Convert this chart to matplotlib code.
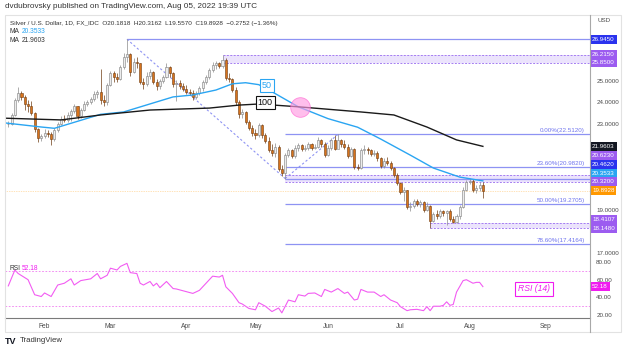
import matplotlib
matplotlib.use("Agg")
import matplotlib.pyplot as plt
import numpy as np
import pandas as pd
from matplotlib.lines import Line2D
from matplotlib.patches import Rectangle
import matplotlib.transforms as mtransforms

plt.rcParams["font.family"] = ["Liberation Sans", "DejaVu Sans"]

# ---- data (daily bars, Jan 17 .. Aug 5 2022) ----
dates = pd.bdate_range("2022-01-17", "2022-08-05")
first_open = 22.98
closes = [23.00, 23.40, 24.10, 24.45, 24.25, 23.95, 23.85, 23.50, 22.75, 22.35, 22.45,
          22.60, 22.55, 22.30, 22.70, 23.00, 23.25, 23.20, 23.40, 23.60, 23.85, 23.35,
          23.65, 23.95, 24.00, 24.15, 24.40, 24.50, 24.10, 24.00, 24.80,
          25.35, 25.20, 25.10, 25.65, 26.10, 26.25, 25.40, 25.90, 25.85, 24.95, 24.85,
          25.25, 25.40, 24.95, 24.75, 25.00, 25.20, 25.65, 25.35, 24.85, 24.90, 24.75, 24.65,
          24.50, 24.45, 24.25, 24.45, 24.67, 24.95, 25.20, 25.50, 25.75, 25.85, 25.70,
          26.00, 25.15, 25.10, 24.60, 24.00, 23.45, 23.55, 23.10, 22.80, 22.60,
          22.50, 22.95, 22.50, 22.20, 21.80, 21.65, 21.95, 20.90, 20.70, 21.55, 21.80,
          21.50, 21.90, 22.00, 21.85, 21.90, 22.05, 21.90, 21.95, 22.25, 22.05, 21.55,
          21.90, 22.25, 21.85, 22.25, 22.05, 21.95, 21.50, 21.85, 21.00, 20.95, 21.80,
          21.85, 21.80, 21.60, 21.65, 21.40, 21.05, 21.30, 21.20, 20.95, 20.65, 20.25,
          19.85, 19.95, 19.15, 19.20, 19.40, 19.30, 19.35, 19.00, 19.20, 18.50, 18.80,
          18.70, 18.95, 18.85, 18.95, 18.60, 18.45, 18.70, 19.15, 19.95, 20.30,
          20.35, 19.95, 20.00, 20.1818, 19.8928]
highs = [23.15, 23.50, 24.20, 24.70, 24.55, 24.35, 24.10, 24.05, 23.55, 22.80, 22.55,
         22.75, 22.70, 22.65, 22.80, 23.10, 23.35, 23.40, 23.55, 23.70, 23.95, 23.85,
         23.75, 24.05, 24.10, 24.25, 24.55, 24.60, 25.55, 24.35, 24.90,
         25.45, 25.45, 25.35, 25.75, 26.30, 26.945, 26.30, 26.05, 26.10, 25.85, 25.15,
         25.40, 25.55, 25.45, 25.10, 25.10, 25.30, 25.85, 25.70, 25.40, 25.05, 25.05, 24.90,
         24.80, 24.65, 24.60, 24.55, 24.75, 25.05, 25.30, 25.60, 25.90, 25.95, 25.90,
         26.215, 26.05, 25.35, 25.15, 24.70, 24.10, 23.70, 23.60, 23.20, 22.95,
         22.75, 23.05, 23.00, 22.60, 22.40, 22.05, 22.10, 22.00, 21.10, 21.65, 21.90,
         21.85, 22.00, 22.10, 22.05, 22.00, 22.15, 22.10, 22.05, 22.40, 22.30, 22.15,
         22.00, 22.35, 22.50, 22.512, 22.30, 22.25, 22.05, 21.95, 21.90, 21.15, 21.90,
         22.00, 21.95, 21.85, 21.80, 21.75, 21.45, 21.40, 21.45, 21.30, 21.00, 20.70,
         20.30, 20.05, 19.95, 19.35, 19.50, 19.50, 19.45, 19.40, 19.35, 19.25, 18.90,
         19.00, 19.05, 19.00, 19.00, 19.05, 18.70, 18.80, 19.25, 20.05, 20.40,
         20.50, 20.45, 20.15, 20.30, 20.3162]
lows = [22.85, 22.95, 23.35, 24.00, 24.10, 23.65, 23.55, 23.40, 22.65, 22.15, 22.20,
        22.35, 22.40, 22.00, 22.20, 22.65, 22.95, 23.10, 23.10, 23.15, 23.50, 23.25,
        23.30, 23.60, 23.85, 23.95, 24.05, 24.20, 23.95, 23.85, 23.90,
        24.75, 24.95, 24.95, 25.05, 25.55, 25.90, 25.25, 25.35, 25.60, 24.85, 24.65,
        24.75, 25.10, 24.85, 24.60, 24.65, 24.90, 25.15, 25.20, 24.70, 24.05, 24.65, 24.55,
        24.40, 24.35, 24.10, 24.15, 24.35, 24.55, 24.85, 25.10, 25.40, 25.55, 25.60,
        25.60, 25.05, 24.95, 24.50, 23.90, 23.30, 23.30, 23.00, 22.70, 22.45,
        22.30, 22.40, 22.35, 22.10, 21.70, 21.50, 21.45, 20.80, 20.60, 20.462, 21.45,
        21.40, 21.40, 21.75, 21.75, 21.75, 21.80, 21.80, 21.85, 21.90, 21.95, 21.45,
        21.50, 21.80, 21.80, 21.95, 21.95, 21.85, 21.40, 21.45, 20.90, 20.85, 20.90,
        21.60, 21.60, 21.50, 21.50, 21.30, 20.95, 20.95, 21.10, 20.85, 20.55, 20.15,
        19.75, 19.40, 19.05, 18.95, 19.10, 19.20, 19.15, 18.90, 18.95, 18.148, 18.45,
        18.60, 18.65, 18.70, 18.30, 18.50, 18.40, 18.41, 18.60, 19.10, 19.90,
        20.20, 19.85, 19.80, 19.90, 19.557]

ma50_at = [-1, 10, 14, 28, 35, 50, 56, 63, 68, 72, 76, 80, 88, 97, 106, 113, 122, 129, 137, 144]
ma50_val = [23.05, 22.86, 22.80, 23.45, 23.56, 24.26, 24.35, 24.58, 24.87, 24.92, 24.83,
            24.50, 23.80, 23.25, 22.85, 22.30, 21.55, 20.95, 20.53, 20.3533]
ma100_at = [-1, 16, 28, 43, 61, 70, 76, 88, 107, 117, 127, 136, 144]
ma100_val = [23.27, 23.19, 23.42, 23.65, 23.74, 23.88, 23.93, 23.80, 23.56, 23.42, 22.86,
             22.26, 21.9603]

rsi_at = [0, 2, 3, 6, 8, 10, 11, 13, 15, 17, 19, 20, 22, 25, 27, 28, 30, 31, 33, 34, 36,
          37, 39, 40, 41, 43, 44, 45, 46, 48, 50, 51, 53, 56, 58, 60, 62, 64, 65, 66, 68,
          70, 71, 73, 75, 76, 78, 80, 82, 83, 85, 87, 88, 90, 91, 93, 95, 96, 98, 100,
          102, 103, 105, 106, 107, 109, 111, 113, 114, 116, 118, 119, 121, 122, 124, 126,
          127, 128, 129, 131, 132, 133, 134, 135, 136, 138, 139, 141, 142, 143, 144]
rsi_val = [53, 71, 67, 60, 43, 41, 45, 41, 54, 56, 61, 54, 59, 61, 67, 61, 65, 73, 71, 75,
           78.5, 68, 67, 56, 54, 58, 53, 56, 51, 58, 50, 49.5, 47.5, 44.5, 48, 56, 64, 63,
           65, 52, 44.5, 34, 32.5, 27.5, 26, 34, 30, 24, 28, 22.5, 37, 35, 43, 41.5, 44.5,
           45, 41, 49, 46, 50, 44.5, 46, 37, 38, 49, 46, 46, 41, 43, 37, 34, 29.5, 25, 26,
           26.5, 25, 29.5, 25, 30, 30, 31, 35, 31, 32, 46, 59, 60, 56, 57, 57, 52.18]

swing_high, swing_low, swing_back = 26.945, 20.462, 22.512
fib_ratios = [0.0, 0.236, 0.5, 0.786]
zones = [(25.85, 26.215, "2022-04-18"), (20.32, 20.623, "2022-05-13"), (18.148, 18.4107, "2022-07-14")]
price_tags = [(26.945, "#2b33ee"), (26.215, "#9c5cf0"), (25.85, "#9c5cf0"), (21.9603, "#131722"),
              (20.623, "#9c5cf0"), (20.462, "#2b33ee"), (20.3533, "#2aa5f2"), (20.32, "#9c5cf0"),
              (19.8928, "#ff9800"), (18.4107, "#9c5cf0"), (18.148, "#9c5cf0")]

# ---- figure ----
W, H = 625, 350
fig = plt.figure(figsize=(6.25, 3.5), dpi=100)
fig.patch.set_facecolor("white")
ax = fig.add_axes([5 / W, 1 - 256 / H, 585 / W, 241 / H])
rsi = fig.add_axes([5 / W, 1 - 318 / H, 585 / W, 62 / H], sharex=ax)

XMIN, XMAX = -1.0, 176.5
YMIN, YMAX = 16.86, 28.07
ax.set_xlim(XMIN, XMAX)
ax.set_ylim(YMIN, YMAX)

x = np.arange(len(closes))
c = np.array(closes)
o = np.r_[first_open, c[:-1]]
up = c >= o
idx = lambda d: dates.get_loc(pd.Timestamp(d))
fib_color = "#8e93f3"

# zones
for lo, hi, start in zones:
    s = idx(start)
    ax.fill_between([s, XMAX], lo, hi, color="#ebe3fc", lw=0, zorder=1)
    ax.hlines([lo, hi], s, XMAX, colors="#a47cf2", linestyles=(0, (2, 1.5)), lw=0.7, zorder=1.5)

# horizontal levels
i_high, i_low, i_back = idx("2022-03-08"), idx("2022-05-13"), idx("2022-06-06")
ax.hlines(swing_high, i_high, XMAX, colors=fib_color, lw=0.9, zorder=1.6)
ax.hlines(swing_low, i_low, XMAX, colors=fib_color, lw=0.9, zorder=1.6)
lab_tr = mtransforms.blended_transform_factory(ax.transAxes, ax.transData)
for r in fib_ratios:
    lvl = swing_back - (swing_high - swing_low) * r
    ax.hlines(lvl, i_low, XMAX, colors=fib_color, lw=0.9, zorder=1.6)
    ax.text(0.9915, lvl + 0.07, f"{r * 100:.2f}%({lvl:.4f})", transform=lab_tr,
            ha="right", va="bottom", fontsize=4.5, color="#6f74ee")

# dashed swing lines
ax.plot([i_high, i_low], [swing_high, swing_low], color=fib_color, lw=0.8, ls=(0, (2, 2)), zorder=1.7)
ax.plot([i_low, i_back], [swing_low, swing_back], color=fib_color, lw=0.8, ls=(0, (2, 2)), zorder=1.7)

# current price line
ax.axhline(closes[-1], color="#ffb74d", lw=0.5, ls=(0, (1, 1.5)), alpha=0.8, zorder=1.2)

# candles
h = np.array(highs)
l = np.array(lows)
ax.vlines(x[up], l[up], h[up], colors="#8c8c8c", lw=0.5, zorder=3)
ax.vlines(x[~up], l[~up], h[~up], colors="#6e3c12", lw=0.5, zorder=3)
ax.bar(x[up], np.maximum((c - o)[up], 0.02), bottom=o[up], width=0.62,
       color="#ececec", edgecolor="#7d7d7d", lw=0.4, zorder=3.1)
ax.bar(x[~up], (c - o)[~up], bottom=o[~up], width=0.62,
       color="#d8731c", edgecolor="#6e3c12", lw=0.4, zorder=3.1)

# moving averages
ax.plot(ma50_at, ma50_val, color="#2aa5f2", lw=1.0, zorder=4)
ax.plot(ma100_at, ma100_val, color="#1a1a1a", lw=1.0, zorder=4)
ax.text(78.5, 24.81, "50", fontsize=6.5, color="#2aa5f2", ha="center", va="center", zorder=6,
        bbox=dict(boxstyle="square,pad=0.22", fc="white", ec="#2aa5f2", lw=0.8))
ax.text(77.9, 23.98, "100", fontsize=6.5, color="#111111", ha="center", va="center", zorder=6,
        bbox=dict(boxstyle="square,pad=0.22", fc="white", ec="#111111", lw=0.8))
ax.scatter([88.5], [23.79], s=200, color="#ff9be3", alpha=0.65, edgecolor="#ff5fd0", lw=0.6, zorder=5)

# axes styling
for a in (ax, rsi):
    for sp in a.spines.values():
        sp.set_visible(False)
    a.set_facecolor("none")
ax.tick_params(axis="x", bottom=False, labelbottom=False)
ax.yaxis.tick_right()
ax.set_yticks([17, 19, 23, 24, 25])
ax.set_yticklabels([f"{v:.4f}" for v in [17, 19, 23, 24, 25]])
ax.tick_params(axis="y", length=0, pad=4.5, labelsize=4.5, labelcolor="#4a4a4a")

# stacked price tags on the axis
pane_px = 241.0
spacing = 8.6
pos = {}
prev = None
for p, col in sorted(price_tags, key=lambda t: t[0]):
    yp = (YMAX - p) / (YMAX - YMIN) * pane_px
    if prev is not None:
        yp = min(yp, prev - spacing)
    pos[p] = yp
    prev = yp
for p, col in price_tags:
    ax.text(1.0035, 1 - pos[p] / pane_px, f"{p:.4f}", transform=ax.transAxes, ha="left", va="center",
            fontsize=4.5, color="white", clip_on=False, zorder=10,
            bbox=dict(boxstyle="square,pad=0.3", fc=col, ec="none"))

# RSI pane
rsi.set_ylim(16.7, 86.8)
rsi.plot(rsi_at, rsi_val, color="#f25cf2", lw=0.8)
rsi.axhline(70, color="#f07af0", lw=0.6, ls=(0, (2, 2)))
rsi.axhline(30, color="#f07af0", lw=0.6, ls=(0, (2, 2)))
rsi.yaxis.tick_right()
rsi.set_yticks([20, 40, 60, 80])
rsi.set_yticklabels([f"{v:.2f}" for v in [20, 40, 60, 80]])
rsi.tick_params(axis="y", length=0, pad=4.5, labelsize=4.5, labelcolor="#4a4a4a")
rsi.spines["bottom"].set_visible(True)
rsi.spines["bottom"].set_color("#7a7a7a")
rsi.spines["bottom"].set_linewidth(0.8)
cal = pd.bdate_range("2022-01-17", "2022-09-30")
firsts = cal.to_series().groupby(cal.month).head(1)
firsts = [d for d in firsts if d.month > 1]
rsi.set_xticks([cal.get_loc(d) for d in firsts])
rsi.set_xticklabels([d.strftime("%b") for d in firsts])
rsi.tick_params(axis="x", length=0, pad=3.5, labelsize=4.8, labelcolor="#4a4a4a")
rsi.text(1.0035, (52.18 - 16.7) / (86.8 - 16.7), "52.18", transform=rsi.transAxes, ha="left",
         va="center", fontsize=4.5, color="white", clip_on=False,
         bbox=dict(boxstyle="square,pad=0.3", fc="#f01cf0", ec="none"))
rsi.text(159.5, 49.5, "RSI (14)", fontsize=6.2, style="italic", color="#f01cf0", ha="center", va="center",
         bbox=dict(boxstyle="square,pad=0.3", fc="white", ec="#f01cf0", lw=0.8))

# frame, axis separator, header texts
fig.add_artist(Rectangle((5 / W, 1 - 332 / H), 616 / W, 317 / H, transform=fig.transFigure,
                         fill=False, ec="#e2e2e2", lw=0.8))
fig.add_artist(Line2D([590 / W, 590 / W], [1 - 15 / H, 1 - 332 / H], color="#a8a8a8", lw=0.8))
fig.text(5 / W, 1 - 7 / H, "dvdubrovsky published on TradingView.com, Aug 05, 2022 19:39 UTC",
         fontsize=5.9, color="#333333", va="center")
fig.text(10 / W, 1 - 23 / H,
         "Silver / U.S. Dollar, 1D, FX_IDC  O20.1818  H20.3162  L19.5570  C19.8928  \u22120.2752 (\u22121.36%)",
         fontsize=4.6, color="#333333", va="center")
fig.text(10 / W, 1 - 31.5 / H, "MA", fontsize=4.8, color="#333333", va="center")
fig.text(22 / W, 1 - 31.5 / H, f"{ma50_val[-1]:.4f}", fontsize=4.8, color="#2aa5f2", va="center")
fig.text(10 / W, 1 - 40 / H, "MA", fontsize=4.8, color="#333333", va="center")
fig.text(22 / W, 1 - 40 / H, f"{ma100_val[-1]:.4f}", fontsize=4.8, color="#333333", va="center")
fig.text(597 / W, 1 - 20 / H, "USD", fontsize=4.5, color="#4a4a4a", va="center")
fig.text(10 / W, 1 - 269 / H, "RSI", fontsize=4.8, color="#333333", va="center")
fig.text(22 / W, 1 - 269 / H, "52.18", fontsize=4.8, color="#f01cf0", va="center")
fig.text(5 / W, 1 - 341 / H, "TV", fontsize=6.5, weight="bold", color="#131722", va="center")
fig.text(20 / W, 1 - 341 / H, "TradingView", fontsize=5.6, color="#333333", va="center")

fig.savefig("out.png", dpi=100)
